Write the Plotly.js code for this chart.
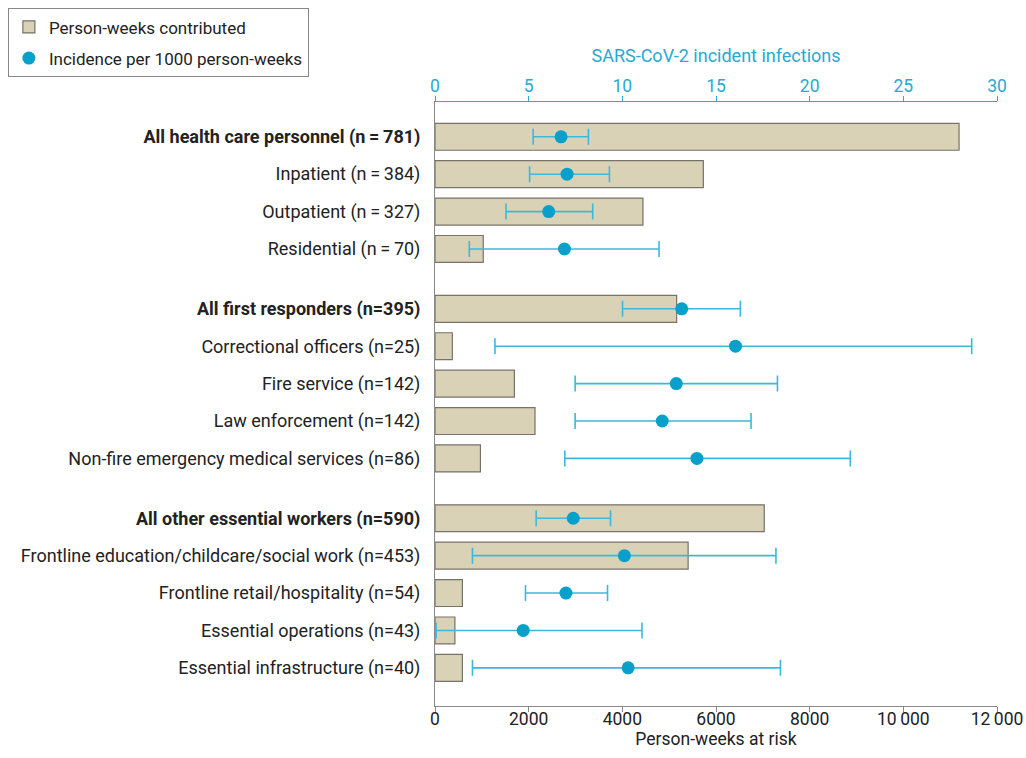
<!DOCTYPE html>
<html>
<head>
<meta charset="utf-8">
<script src="https://cdn.plot.ly/plotly-3.0.1.min.js"></script>
<style>html,body{margin:0;padding:0;background:#fff;}#chart{width:1026px;height:758px;}</style>
</head>
<body>
<div id="chart"></div>
<script>
// ---- data ----
var groups = [
  ["All health care personnel (n\u2009=\u2009781)", "Inpatient (n\u2009=\u2009384)", "Outpatient (n\u2009=\u2009327)", "Residential (n\u2009=\u200970)"],
  ["All first responders (n=395)", "Correctional officers (n=25)", "Fire service (n=142)", "Law enforcement (n=142)", "Non-fire emergency medical services (n=86)"],
  ["All other essential workers (n=590)", "Frontline education/childcare/social work (n=453)", "Frontline retail/hospitality (n=54)", "Essential operations (n=43)", "Essential infrastructure (n=40)"]
];
var isTotal = [true, false, false, false, true, false, false, false, false, true, false, false, false, false];
var personWeeks = [11190, 5730, 4440, 1030, 5160, 370, 1695, 2135, 970, 7030, 5405, 585, 425, 585];
var incidence = [6.73, 7.05, 6.07, 6.91, 13.17, 16.04, 12.88, 12.13, 13.98, 7.38, 10.11, 6.99, 4.71, 10.31];
var ciLow = [5.24, 5.05, 3.79, 1.83, 10.01, 3.20, 7.48, 7.48, 6.93, 5.40, 2.00, 4.83, 0.06, 2.00];
var ciHigh = [8.19, 9.31, 8.42, 11.96, 16.30, 28.65, 18.28, 16.87, 22.17, 9.37, 18.20, 9.21, 11.05, 18.44];
var bottomTicks = [0, 2000, 4000, 6000, 8000, 10000, 12000];
var bottomTickText = ["0", "2000", "4000", "6000", "8000", "10\u2009000", "12\u2009000"];
var topTicks = [0, 5, 10, 15, 20, 25, 30];

// ---- layout helpers ----
var labels = [], pos = [];
var idx = 0;
groups.forEach(function (g, gi) {
  g.forEach(function (name) {
    labels.push(name);
    pos.push(idx + 0.6 * gi);
    idx++;
  });
});
var tickText = labels.map(function (l, i) { return isTotal[i] ? "<b>" + l + "</b>" : l; });
var errPlus = incidence.map(function (v, i) { return ciHigh[i] - v; });
var errMinus = incidence.map(function (v, i) { return v - ciLow[i]; });

var FONT = "Roboto, 'Liberation Sans', sans-serif";
var CYAN = "#2aa9d2";

var traces = [
  {
    type: "bar", orientation: "h", name: "Person-weeks contributed", legendgroup: "a",
    x: personWeeks, y: pos, width: 0.72,
    marker: { color: "#d9d2b6", line: { color: "#77726a", width: 1.2 } },
    xaxis: "x", yaxis: "y", hoverinfo: "x"
  },
  {
    type: "scatter", mode: "markers", name: "Incidence per 1000 person-weeks", legendgroup: "b",
    x: incidence, y: pos,
    marker: { color: "#07a0ca", size: 13 },
    error_x: { type: "data", symmetric: false, array: errPlus, arrayminus: errMinus,
      color: "#3bb9dc", thickness: 1.6, width: 8 },
    xaxis: "x2", yaxis: "y"
  }
];

var layout = {
  width: 1026, height: 758,
  margin: { l: 435, r: 29, t: 102, b: 52, autoexpand: false },
  paper_bgcolor: "#fff", plot_bgcolor: "#fff",
  font: { family: FONT, size: 17.5, color: "#222" },
  showlegend: true,
  legend: {
    x: -0.76, y: 1.155, xanchor: "left", yanchor: "top",
    bordercolor: "#888", borderwidth: 1, bgcolor: "#fff",
    font: { size: 17, color: "#222" }, tracegroupgap: 6, itemwidth: 30
  },
  bargap: 0,
  xaxis: {
    range: [0, 12000], tickvals: bottomTicks, ticktext: bottomTickText,
    showgrid: false, zeroline: false, showline: true, linecolor: "#888", linewidth: 1,
    ticks: "outside", ticklen: 5, tickcolor: "#888", ticklabelstandoff: -8,
    tickfont: { size: 17.5, color: "#222" },
    title: { text: "Person-weeks at risk", font: { size: 17.5, color: "#222" }, standoff: 4 },
    automargin: false, fixedrange: true
  },
  xaxis2: {
    range: [0, 30], overlaying: "x", side: "top", tickvals: topTicks,
    showgrid: false, zeroline: false, showline: true, linecolor: CYAN, linewidth: 1,
    ticks: "outside", ticklen: 5, tickcolor: CYAN, ticklabelstandoff: -3,
    tickfont: { size: 17.5, color: CYAN },
    title: { text: "SARS-CoV-2 incident infections", font: { size: 18, color: CYAN }, standoff: 8 },
    automargin: false, fixedrange: true
  },
  yaxis: {
    range: [15.22, -0.93], tickvals: pos, ticktext: tickText,
    showgrid: false, zeroline: false, showline: true, linecolor: "#888", linewidth: 1,
    ticks: "", ticklabelstandoff: 10,
    tickfont: { size: 18, color: "#222" }, automargin: false, fixedrange: true
  }
};

Plotly.newPlot("chart", traces, layout, { displayModeBar: false, staticPlot: true });
</script>
</body>
</html>
